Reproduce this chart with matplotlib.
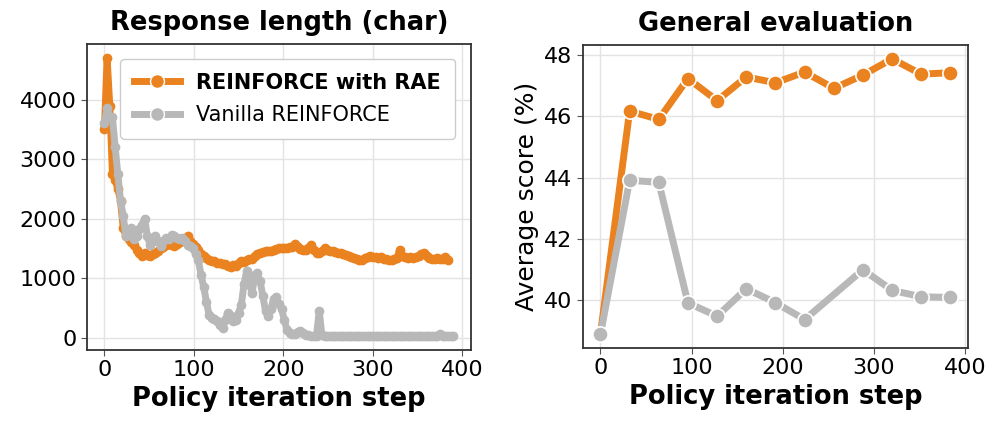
import numpy as np
import matplotlib
matplotlib.use("Agg")
import matplotlib.pyplot as plt

# response length (chars), sampled every 3 policy steps
len_steps = list(range(0, 391, 3))
rae_len = [
    3500, 4700, 3900, 2750, 2650, 2500, 2300, 1850, 1700, 1650,
    1600, 1550, 1480, 1420, 1380, 1420, 1390, 1370, 1400, 1430,
    1450, 1500, 1530, 1560, 1580, 1560, 1540, 1570, 1600, 1640,
    1660, 1700, 1620, 1580, 1530, 1470, 1410, 1380, 1340, 1310,
    1290, 1280, 1260, 1250, 1230, 1240, 1210, 1190, 1220, 1200,
    1260, 1290, 1270, 1310, 1320, 1330, 1380, 1400, 1420, 1440,
    1450, 1460, 1460, 1480, 1490, 1500, 1510, 1510, 1500, 1530,
    1520, 1570, 1520, 1490, 1470, 1480, 1500, 1550, 1470, 1420,
    1430, 1460, 1500, 1470, 1450, 1460, 1440, 1430, 1420, 1400,
    1390, 1380, 1350, 1340, 1320, 1300, 1310, 1340, 1360, 1370,
    1350, 1360, 1340, 1350, 1330, 1320, 1300, 1310, 1320, 1340,
    1480, 1380, 1350, 1340, 1360, 1340, 1350, 1380, 1400, 1420,
    1370, 1340, 1330, 1320, 1340, 1320, 1330, 1350, 1300,
]
vanilla_len = [
    3600, 3850, 3700, 3700, 3200, 2750, 2300, 2050, 1700, 1780,
    1850, 1650, 1700, 1820, 1900, 2000, 1700, 1560, 1620, 1700,
    1620, 1540, 1620, 1680, 1650, 1720, 1700, 1680, 1660, 1680,
    1620, 1560, 1540, 1500, 1400, 1300, 1050, 850, 600, 380,
    330, 320, 280, 220, 160, 300, 420, 360, 280, 300,
    420, 550, 900, 1120, 900, 750, 1050, 1080, 950, 700,
    450, 360, 480, 650, 680, 560, 480, 300, 130, 80,
    60, 70, 100, 120, 80, 50, 40, 35, 35, 35,
    450, 40, 30, 28, 28, 27, 28, 28, 27, 28,
    28, 27, 28, 28, 27, 28, 28, 27, 28, 28,
    27, 28, 28, 27, 28, 28, 27, 28, 28, 27,
    28, 28, 27, 28, 28, 27, 28, 28, 27, 28,
    28, 27, 28, 28, 27, 55, 30, 28, 28, 28,
    28,
]

# general evaluation, average score (%)
rae_eval_steps = [0, 32, 64, 96, 128, 160, 192, 224, 256, 288, 320, 352, 384]
rae_score = [38.90, 46.16, 45.89, 47.22, 46.50, 47.27, 47.08, 47.43,
             46.90, 47.33, 47.86, 47.36, 47.41]
vanilla_eval_steps = [0, 32, 64, 96, 128, 160, 192, 224, 288, 320, 352, 384]
vanilla_score = [38.90, 43.91, 43.84, 39.92, 39.49, 40.38, 39.93, 39.38,
                 41.00, 40.33, 40.12, 40.10]

orange = "#eb8220"
grey = "#b8b8b8"

fig = plt.figure(figsize=(9.96, 4.25), dpi=100)
ax1 = fig.add_axes([0.0873, 0.1765, 0.3855, 0.72])
ax2 = fig.add_axes([0.5853, 0.1810, 0.3865, 0.713])

for ax in (ax1, ax2):
    ax.grid(True, color="#e3e3e3", linewidth=1.0)
    ax.set_axisbelow(True)
    for s in ax.spines.values():
        s.set_color("#333333")
        s.set_linewidth(1.3)
    ax.tick_params(labelsize=16, length=4, color="#555555")
    ax.set_xlabel("Policy iteration step", fontsize=18.5, fontweight="bold")

# left: response length
ax1.plot(len_steps[:len(rae_len)], rae_len, color=orange, lw=5, marker="o",
         ms=6, mec=orange, label="REINFORCE with RAE", zorder=3)
ax1.plot(len_steps[:len(vanilla_len)], vanilla_len, color=grey, lw=5, marker="o",
         ms=6, mec=grey, label="Vanilla REINFORCE", zorder=4)
ax1.set_title("Response length (char)", fontsize=18.5, fontweight="bold", pad=10)
ax1.set_xticks([0, 100, 200, 300, 400])
ax1.set_yticks([0, 1000, 2000, 3000, 4000])
leg = ax1.legend(loc="upper right", fontsize=15, handlelength=2.2,
                 borderpad=0.65, labelspacing=0.6, framealpha=1,
                 bbox_to_anchor=(0.985, 0.985))
for h in leg.legend_handles:
    h.set_markersize(10)
    h.set_markeredgecolor("white")
leg.get_texts()[0].set_fontweight("bold")

# right: general evaluation (grey drawn over orange)
ax2.plot(rae_eval_steps, rae_score, color=orange, lw=5, marker="o", ms=11,
         mec="white", mew=1.2, zorder=3)
ax2.plot(vanilla_eval_steps, vanilla_score, color=grey, lw=5, marker="o", ms=11,
         mec="white", mew=1.2, zorder=4)
ax2.set_title("General evaluation", fontsize=18.5, fontweight="bold", pad=10)
ax2.set_ylabel("Average score (%)", fontsize=18)
ax2.set_xticks([0, 100, 200, 300, 400])
ax2.set_yticks([40, 42, 44, 46, 48])

fig.savefig("out.png", dpi=100)
